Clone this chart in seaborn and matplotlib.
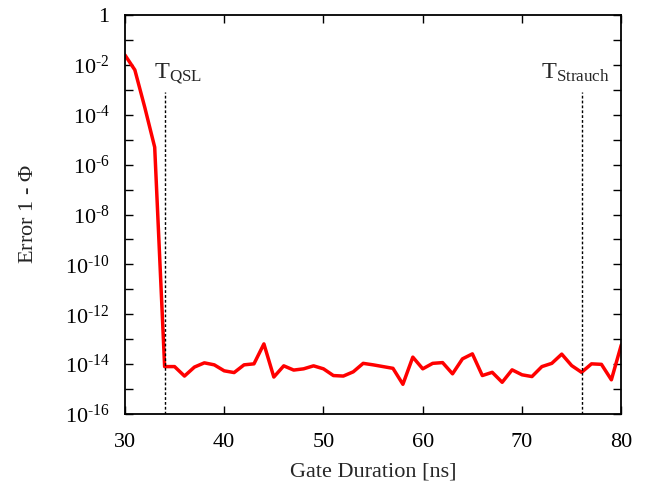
import numpy as np
import pandas as pd
import matplotlib
matplotlib.use("Agg")
import matplotlib.pyplot as plt
import seaborn as sns

# gate duration in ns and log10 of the error 1 - Phi
duration = list(range(30, 81))
log_error = [
    -1.60, -2.20, -3.70, -5.30, -14.10, -14.10, -14.48, -14.12, -13.95, -14.03,
    -14.27, -14.34, -14.03, -13.99, -13.19, -14.52, -14.07, -14.24, -14.19, -14.07,
    -14.19, -14.46, -14.48, -14.31, -13.97, -14.03, -14.10, -14.17, -14.81, -13.72,
    -14.19, -13.97, -13.94, -14.39, -13.79, -13.59, -14.46, -14.33, -14.73, -14.23,
    -14.43, -14.50, -14.10, -13.97, -13.60, -14.06, -14.33, -13.99, -14.01, -14.63,
    -13.23,
]
t_qsl = 34
t_strauch = 76

df = pd.DataFrame({"duration": duration, "error": 10.0 ** np.array(log_error)})

sns.set_theme(style="ticks")
plt.rcParams["font.family"] = ["Liberation Serif", "DejaVu Serif"]
plt.rcParams["mathtext.fontset"] = "custom"
plt.rcParams["mathtext.rm"] = "Liberation Serif"
plt.rcParams["mathtext.it"] = "Liberation Serif:italic"
plt.rcParams["mathtext.bf"] = "Liberation Serif:bold"

fig = plt.figure(figsize=(6.54, 4.87), dpi=100)
ax = fig.add_axes([0.191, 0.150, 0.759, 0.819])

sns.lineplot(data=df, x="duration", y="error", color="red", linewidth=2.5, ax=ax)
ax.set_yscale("log")
ax.set_xlim(30, 80)
ax.set_ylim(1e-16, 1)

# markers for the quantum speed limit and the Strauch gate time
for t in (t_qsl, t_strauch):
    ax.plot([t, t], [1e-16, 8e-4], color="black", linestyle=(0, (2, 1.5)), linewidth=1.0)
ax.text(32.95, 10 ** -2.55, r"T$_{\mathrm{QSL}}$", fontsize=17.5, ha="left", va="baseline")
ax.text(71.9, 10 ** -2.55, r"T$_{\mathrm{Strauch}}$", fontsize=17.5, ha="left", va="baseline")

ax.set_xticks(range(30, 81, 10))
ax.set_xticklabels([str(v) for v in range(30, 81, 10)])
ax.set_yticks([10.0 ** k for k in range(-16, 1)])
ylabels = []
for k in range(-16, 1):
    if k == 0:
        ylabels.append("1")
    elif k % 2 == 0:
        ylabels.append("10$^{\u2010%d}$" % (-k))
    else:
        ylabels.append("")
ax.set_yticklabels(ylabels)
ax.minorticks_off()

ax.tick_params(direction="in", length=6, width=1.0, top=True, right=True,
               labelsize=16, colors="black")
ax.tick_params(axis="x", pad=14)
ax.tick_params(axis="y", pad=11)
for s in ax.spines.values():
    s.set_visible(True)
    s.set_linewidth(1.3)
    s.set_color("black")

ax.set_xlabel("Gate Duration [ns]", fontsize=16, labelpad=7)
ax.set_ylabel(r"Error 1 - $\Phi$", fontsize=16, labelpad=19)

fig.savefig("out.png", dpi=100)
